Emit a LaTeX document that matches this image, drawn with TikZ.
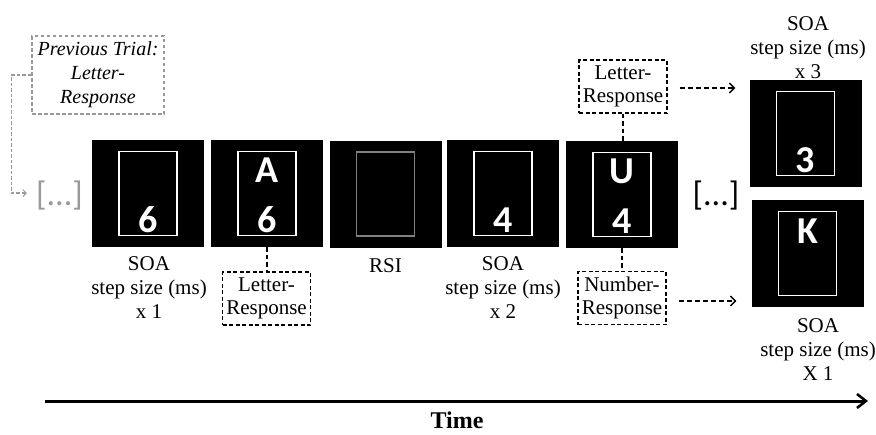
\documentclass[tikz,border=0pt]{standalone}
\usepackage{fontspec}
\setmainfont{Liberation Serif}
\newfontfamily\glyphfont{Carlito}
\usetikzlibrary{arrows.meta}

\definecolor{framegray}{HTML}{808080}
\definecolor{prevgray}{HTML}{999999}

\begin{document}
\begin{tikzpicture}[x=1pt, y=-1pt,
  screen/.style={fill=black, draw=none, minimum width=112pt, minimum height=107pt, inner sep=0pt},
  frame/.style={draw=white, line width=1.6pt, minimum width=58pt, minimum height=84pt, inner sep=0pt},
  glyph/.style={text=white, font=\glyphfont\bfseries\fontsize{38}{38}\selectfont, inner sep=0pt, anchor=base},
  caption/.style={font=\fontsize{21}{24}\selectfont, align=center, inner sep=0pt, anchor=north},
  respbox/.style={draw, line width=1.2pt, dash pattern=on 4pt off 2.5pt, font=\fontsize{21}{23}\selectfont,
                  align=center, inner sep=1pt, minimum width=88pt, minimum height=53pt},
  link/.style={line width=1.6pt, dash pattern=on 4.5pt off 3pt},
  flow/.style={line width=1.5pt, dash pattern=on 5pt off 3pt, -{Straight Barb[length=5pt,width=10pt,line width=1.3pt]}},
  dots/.style={font=\glyphfont\fontsize{34}{34}\selectfont, inner sep=0pt}
]
\useasboundingbox (0,0) rectangle (876,434);

% stimulus screens along the trial
\node[screen] (s1) at (148,193.5) {};
\node[screen] (s2) at (267,193.5) {};
\node[screen] (s3) at (385.5,194) {};
\node[screen] (s4) at (503,193.5) {};
\node[screen] (s5) at (622,194.5) {};
\node[screen] (rt) at (805.5,133.5) {};
\node[screen] (rb) at (807.5,253.5) {};

% inner frames
\node[frame] (f1) at (s1.center) {};
\node[frame] (f2) at (s2.center) {};
\node[frame, draw=framegray] (f3) at (s3.center) {};
\node[frame] (f4) at (s4.center) {};
\node[frame] (f5) at (s5.center) {};
\node[frame] (f6) at (rt.center) {};
\node[frame] (f7) at (rb.center) {};

% letters and digits (shifts are in page units: negative is downwards)
\node[glyph] (d1) at ([yshift=-38.5pt]s1.center) {6};
\node[glyph] (l2) at ([yshift=11.5pt]s2.center) {A};
\node[glyph] (d2) at ([yshift=-38.5pt]s2.center) {6};
\node[glyph] (d4) at ([yshift=-38.5pt]s4.center) {4};
\node[glyph] (l5) at ([yshift=11.5pt]s5.center) {U};
\node[glyph] (d5) at ([yshift=-38.5pt]s5.center) {4};
\node[glyph] (d6) at ([yshift=-38.5pt]rt.center) {3};
\node[glyph] (l7) at ([yshift=10.5pt]rb.center) {K};

% captions
\node[caption] (c1) at (149,256) {SOA\\step size (ms)\\x 1};
\node[caption] (c3) at (385.5,258) {RSI};
\node[caption] (c4) at (503,256) {SOA\\step size (ms)\\x 2};
\node[caption] (c6) at (808,16) {SOA\\step size (ms)\\x 3};
\node[caption] (c7) at (818,318) {SOA\\step size (ms)\\X 1};

% response boxes
\node[respbox] (lr1) at (266.5,298.5) {Letter-\\Response};
\node[respbox] (lr2) at (623,86.5) {Letter-\\Response};
\node[respbox] (nr) at (622,298) {Number-\\Response};

\draw[link] (s2.south) -- (s2.south |- lr1.north);
\draw[link] (lr2.south) -- (lr2.south |- s5.north);
\draw[link] (s5.south) -- (s5.south |- nr.north);

\draw[flow, shorten <=12pt, shorten >=14pt] ([yshift=-1.5pt]lr2.east) -- ([yshift=-1.5pt]lr2.east -| rt.west);
\draw[flow, shorten <=12pt, shorten >=15pt] ([yshift=-3pt]nr.east) -- ([yshift=-3pt]nr.east -| rb.west);

% ellipses
\node[dots, text=prevgray] (e1) at (59.5,196) {[...]};
\node[dots] (e2) at (716,196) {[...]};

% previous trial
\node[draw=prevgray, line width=1.2pt, dash pattern=on 3.5pt off 2.5pt, minimum width=132pt, minimum height=78pt,
      inner sep=0pt, align=center, font=\itshape\fontsize{20}{24}\selectfont] (prev) at (98,75)
      {Previous Trial:\\Letter-\\Response};
\draw[prevgray, line width=1.2pt, dash pattern=on 3.5pt off 2pt, shorten >=9pt,
      -{Straight Barb[length=3.5pt,width=7pt,line width=1pt]}]
      (prev.west) -- ++(-20,0) |- ([yshift=3pt]e1.west);

% time axis
\coordinate (t0) at (45,401);
\coordinate (t1) at (868,401);
\draw[line width=3pt, -{Straight Barb[length=9pt,width=14pt,line width=2.5pt]}] (t0) -- (t1);
\node[font=\bfseries\fontsize{24}{24}\selectfont, anchor=base, inner sep=0pt] (time) at (457,428) {Time};
\end{tikzpicture}
\end{document}
